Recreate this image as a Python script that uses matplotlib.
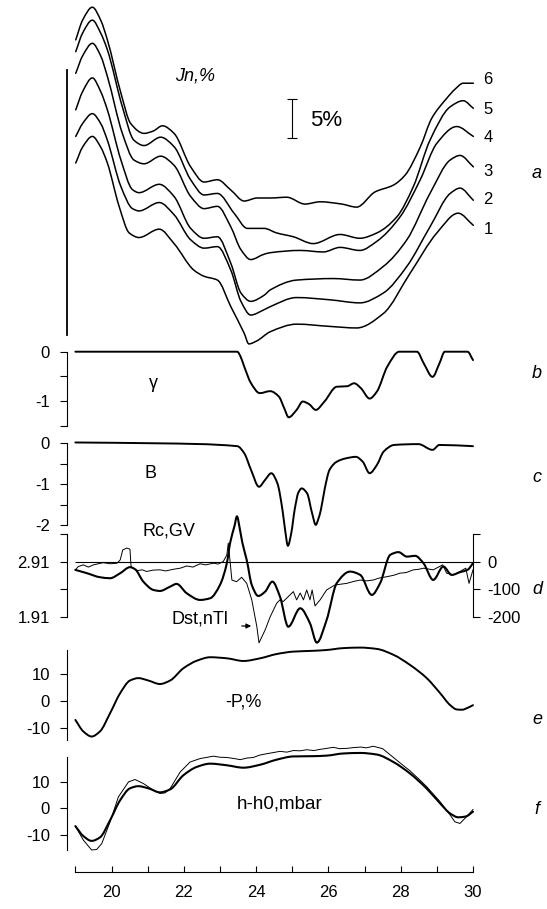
import matplotlib
matplotlib.use("Agg")
import matplotlib.pyplot as plt
import numpy as np
from matplotlib.path import Path
from matplotlib.patches import PathPatch, FancyArrowPatch

plt.rcParams["font.family"] = ["Liberation Sans", "DejaVu Sans"]
plt.rcParams["axes.unicode_minus"] = False

W, H = 547, 909
X_LIM = (18.76, 30.0)

# a: Jn,% curves 1..6 (days, %)
jn1_t = [19.01, 19.2, 19.47, 19.7, 19.885, 20.21, 20.49, 20.76, 21.32, 21.73, 22.28, 22.56, 22.93, 23.30,
         23.67, 23.80, 24.02, 24.39, 25.12, 26.05, 26.78, 27.52, 28.26, 29.00, 29.59, 30.01]
jn1 = [24.6, 26.7, 28.1, 26.7, 24.6, 18.9, 15.4, 14.8, 15.9, 14.0, 10.5, 9.7, 9.2, 5.7,
       2.2, 0.8, 1.2, 2.4, 3.4, 3.1, 2.9, 4.8, 10.1, 15.4, 18.0, 16.4]
jn2_t = [19.01, 19.2, 19.47, 19.7, 19.885, 20.26, 20.58, 20.76, 21.32, 21.73, 22.19, 22.56, 22.93, 23.30,
         23.58, 23.85, 24.22, 24.39, 25.12, 26.05, 26.87, 27.52, 28.17, 28.81, 29.37, 29.64, 30.01]
jn2 = [28.1, 29.8, 31.1, 29.8, 27.6, 21.5, 18.6, 18.3, 19.4, 17.8, 14.5, 13.4, 13.6, 10.5,
       6.4, 4.6, 5.3, 5.7, 6.9, 6.6, 6.2, 7.5, 11.0, 16.2, 20.6, 21.3, 19.7]
jn3_t = [19.01, 19.2, 19.47, 19.7, 19.885, 20.26, 20.58, 20.76, 21.32, 21.73, 22.19, 22.56, 22.93, 23.30,
         23.58, 23.85, 24.22, 24.39, 25.12, 26.14, 26.87, 27.52, 28.17, 28.81, 29.37, 29.64, 30.01]
jn3 = [31.6, 34.0, 35.8, 34.0, 31.6, 25.0, 21.1, 20.7, 21.8, 20.2, 16.0, 14.7, 14.9, 11.4,
       7.5, 6.4, 7.2, 7.9, 9.2, 9.4, 9.2, 11.0, 14.5, 20.6, 25.0, 25.6, 24.1]
jn4_t = [19.01, 19.2, 19.47, 19.7, 19.885, 20.30, 20.62, 20.90, 21.36, 21.73, 22.19, 22.56, 22.93, 23.30,
         23.58, 23.85, 24.22, 24.39, 25.22, 25.86, 26.32, 26.87, 27.34, 27.98, 28.54, 29.00, 29.55, 30.01]
jn4 = [36.4, 38.7, 40.35, 38.7, 36.0, 28.5, 25.0, 24.5, 25.5, 24.3, 20.2, 18.6, 18.9, 16.2,
       13.2, 11.9, 12.6, 12.8, 13.1, 12.9, 13.5, 13.1, 14.3, 17.5, 22.4, 27.2, 29.4, 28.1]
jn5_t = [19.01, 19.2, 19.47, 19.7, 19.885, 20.30, 20.62, 20.90, 21.36, 21.73, 22.19, 22.56, 22.93, 23.39,
         23.76, 24.22, 24.57, 25.03, 25.58, 26.32, 26.87, 27.34, 27.89, 28.35, 28.81, 29.37, 29.73, 30.01]
jn5 = [39.25, 41.7, 43.4, 41.7, 39.5, 32.0, 27.6, 26.9, 28.0, 26.75, 22.4, 20.4, 20.6, 18.0,
       16.0, 16.0, 15.4, 14.9, 14.0, 15.2, 14.7, 15.4, 17.5, 21.5, 27.6, 32.0, 32.8, 31.8]
jn6_t = [19.01, 19.2, 19.47, 19.7, 19.885, 20.26, 20.53, 20.90, 21.15, 21.41, 21.73, 22.19, 22.56, 22.93,
         23.30, 23.67, 24.03, 24.39, 24.85, 25.35, 25.77, 26.37, 26.78, 27.29, 27.80, 28.12, 28.54, 28.86,
         29.27, 29.5, 29.73, 30.01]
jn6 = [40.8, 43.4, 45.1, 43.4, 40.8, 33.8, 29.8, 28.5, 28.8, 29.5, 28.5, 24.1, 22.1, 22.4,
       21.05, 19.6, 20.0, 20.0, 20.1, 19.2, 19.5, 19.2, 18.8, 20.8, 21.7, 23.0, 26.7, 30.5,
       33.1, 34.3, 35.1, 35.1]
jn_curves = [(jn1_t, jn1, "1"), (jn2_t, jn2, "2"), (jn3_t, jn3, "3"),
             (jn4_t, jn4, "4"), (jn5_t, jn5, "5"), (jn6_t, jn6, "6")]

# b: gamma
gamma_t = [19.0, 23.48, 23.57, 23.67, 23.86, 24.10, 24.39, 24.63, 24.78, 24.90, 25.12, 25.29, 25.46,
           25.65, 25.89, 26.23, 26.52, 26.71, 26.90, 27.14, 27.34, 27.63, 27.96, 28.45, 28.64, 28.88,
           29.07, 29.22, 29.85, 30.0]
gamma = [0, 0, -0.10, -0.30, -0.64, -0.84, -0.80, -0.91, -1.15, -1.33, -1.18, -1.01, -1.06,
         -1.18, -1.01, -0.71, -0.70, -0.64, -0.74, -0.95, -0.81, -0.30, 0, 0, -0.24, -0.51,
         -0.24, 0, 0, -0.17]

# c: B
bfield_t = [19.0, 21.26, 23.48, 23.67, 23.86, 24.08, 24.25, 24.42, 24.59, 24.73, 24.80, 24.88, 24.97,
            25.07, 25.17, 25.26, 25.41, 25.55, 25.65, 25.72, 25.79, 25.9, 26.03, 26.23, 26.47, 26.76,
            26.95, 27.14, 27.34, 27.53, 27.82, 28.49, 28.88, 29.07, 30.0]
bfield = [0.02, 0, -0.07, -0.24, -0.65, -1.06, -0.89, -0.73, -0.98, -1.63, -2.1, -2.5, -2.2,
          -1.6, -1.2, -1.10, -1.22, -1.71, -1.99, -1.85, -1.63, -1.1, -0.65, -0.45, -0.37, -0.33,
          -0.45, -0.73, -0.53, -0.20, -0.04, -0.02, -0.16, -0.04, -0.07]

# d: Rc (GV) and Dst (nT)
rc_t = [19.0, 19.32, 19.68, 19.96, 20.24, 20.51, 20.65, 20.88, 21.16, 21.34, 21.62, 21.80, 22.08,
        22.45, 22.73, 23.00, 23.19, 23.28, 23.40, 23.47, 23.55, 23.62, 23.74, 23.88, 24.06, 24.25,
        24.45, 24.66, 24.89, 25.22, 25.49, 25.68, 25.95, 26.23, 26.60, 26.88, 27.20, 27.43, 27.71,
        27.94, 28.17, 28.40, 28.63, 28.90, 29.18, 29.41, 29.65, 29.85, 30.0]
rc = [2.759, 2.699, 2.626, 2.608, 2.699, 2.808, 2.772, 2.546, 2.395, 2.377, 2.455, 2.505, 2.335,
      2.214, 2.245, 2.486, 2.88, 3.245, 3.55, 3.73, 3.50, 3.25, 2.94, 2.486, 2.286, 2.365,
      2.546, 2.274, 1.728, 2.063, 1.79, 1.44, 1.85, 2.517, 2.728, 2.668, 2.305, 2.517, 3.032,
      3.081, 3.0, 3.014, 2.88, 2.577, 2.82, 2.668, 2.72, 2.76, 2.88]
dst_t = [19.0, 19.08, 19.22, 19.36, 19.50, 19.77, 19.96, 20.15, 20.24, 20.31, 20.42, 20.51, 20.54,
         20.70, 20.85, 20.97, 21.15, 21.34, 21.5, 21.71, 21.9, 22.08, 22.25, 22.45, 22.6, 22.82,
         22.95, 23.09, 23.19, 23.23, 23.28, 23.33, 23.46, 23.60, 23.74, 23.88, 24.02, 24.08, 24.25,
         24.39, 24.57, 24.66, 24.75, 24.89, 25.03, 25.12, 25.22, 25.31, 25.40, 25.49, 25.55, 25.63,
         25.77, 25.95, 26.18, 26.51, 26.7, 26.88, 27.05, 27.24, 27.4, 27.61, 27.8, 27.98, 28.15,
         28.35, 28.5, 28.63, 28.90, 29.16, 29.27, 29.46, 29.64, 29.80, 29.89, 30.0]
dst = [-30, -18, -12, -20, -12, -4, -8, -6, 6, 42, 49, 45, -18,
       -33, -30, -36, -31, -30, -34, -28, -24, -16, -20, -8, -12, -6,
       -9, 0, 24, 67, 0, -67, -73, -57, -79, -139, -236, -295, -248,
       -200, -151, -139, -145, -127, -109, -139, -114, -139, -103, -139, -103, -161,
       -139, -103, -85, -79, -72, -67, -70, -67, -60, -55, -50, -42, -40,
       -30, -28, -24, -30, -12, -42, -48, -36, -24, -79, -30]

# e: -P,%
p_t = [19.0, 19.22, 19.45, 19.68, 19.96, 20.24, 20.51, 20.74, 21.02, 21.34, 21.62, 21.99, 22.36,
       22.73, 23.19, 23.65, 24.11, 24.57, 25.03, 25.58, 25.95, 26.41, 26.88, 27.34, 27.80, 28.26,
       28.72, 29.09, 29.37, 29.55, 29.70, 29.85, 30.0]
p_neg = [-7.1, -11.4, -13.3, -11.4, -4.6, 2.9, 7.6, 8.5, 7.6, 6.3, 7.6, 12.2, 15.0,
         16.3, 15.9, 14.9, 15.9, 17.5, 18.4, 18.7, 19.0, 19.7, 19.9, 19.4, 17.2, 13.4,
         8.5, 2.9, -1.6, -3.2, -3.3, -2.6, -1.6]

# f: h-h0, mbar (model thick, observed thin)
h_t = [19.0, 19.22, 19.45, 19.68, 19.96, 20.24, 20.51, 20.74, 21.02, 21.34, 21.62, 21.99, 22.36,
       22.73, 23.19, 23.65, 24.11, 24.57, 25.03, 25.58, 25.95, 26.41, 26.88, 27.34, 27.80, 28.26,
       28.72, 29.09, 29.37, 29.59, 29.80, 30.0]
h_model = [-6.6, -10.3, -12.1, -10.8, -4.4, 3.1, 7.5, 8.3, 7.5, 6.0, 7.1, 12.4, 15.5,
           16.7, 16.1, 15.2, 16.3, 18.2, 19.4, 19.5, 19.7, 20.5, 20.7, 20.1, 17.3, 13.0,
           7.4, 1.9, -1.9, -3.3, -3.0, -1.2]
hobs_t = [19.0, 19.22, 19.45, 19.59, 19.73, 19.96, 20.19, 20.47, 20.65, 20.88, 21.16, 21.34, 21.48,
          21.62, 21.90, 22.17, 22.45, 22.82, 23.0, 23.19, 23.4, 23.56, 23.75, 23.92, 24.1, 24.29,
          24.5, 24.66, 24.85, 25.03, 25.22, 25.4, 25.6, 25.75, 25.9, 26.14, 26.3, 26.5, 26.7, 26.9,
          27.05, 27.24, 27.5, 27.80, 28.0, 28.26, 28.5, 28.72, 29.09, 29.37, 29.50, 29.64, 29.82, 30.0]
h_obs = [-6.6, -11.8, -15.5, -15.3, -13.1, -5.0, 4.3, 9.9, 10.8, 9.3, 6.8, 5.6, 5.8,
         7.4, 13.6, 17.3, 18.6, 19.5, 19.1, 19.0, 18.6, 18.2, 18.8, 19.0, 19.9, 20.4,
         20.9, 21.3, 21.0, 21.6, 21.5, 21.9, 21.6, 22.0, 22.3, 22.8, 22.3, 22.4, 22.7, 22.9,
         22.6, 23.2, 22.3, 19.0, 16.8, 14.0, 11.0, 8.1, 2.5, -2.5, -5.0, -5.6, -3.1, -0.4]


def box(top, bottom, left=66.7, right=473.0):
    return [left / W, 1 - bottom / H, (right - left) / W, (bottom - top) / H]


def fpos(x, y):
    return x / W, 1 - y / H


def smooth_line(ax, xs, ys, lw):
    # smoothed line through the points (monotone cubic Hermite drawn as Bezier segments)
    x = np.asarray(xs, float)
    y = np.asarray(ys, float)
    h = np.diff(x)
    d = np.diff(y) / h
    m = np.zeros_like(y)
    m[0], m[-1] = d[0], d[-1]
    for k in range(1, len(x) - 1):
        if d[k - 1] * d[k] > 0:
            w1 = 2 * h[k] + h[k - 1]
            w2 = h[k] + 2 * h[k - 1]
            m[k] = (w1 + w2) / (w1 / d[k - 1] + w2 / d[k])
    verts = [(x[0], y[0])]
    codes = [Path.MOVETO]
    for k in range(len(x) - 1):
        verts += [(x[k] + h[k] / 3, y[k] + m[k] * h[k] / 3),
                  (x[k + 1] - h[k] / 3, y[k + 1] - m[k + 1] * h[k] / 3),
                  (x[k + 1], y[k + 1])]
        codes += [Path.CURVE4] * 3
    patch = PathPatch(Path(verts, codes), fill=False, lw=lw, ec="k",
                      clip_on=False, capstyle="round", joinstyle="round")
    ax.add_patch(patch)


def style_panel(ax):
    ax.set_xlim(X_LIM)
    ax.patch.set_visible(False)
    for side in ("top", "right", "bottom"):
        ax.spines[side].set_visible(False)
    ax.spines["left"].set_linewidth(0.8)
    ax.set_xticks([])
    ax.tick_params(axis="y", direction="out", length=5, width=0.8, pad=7, labelsize=12)


fig = plt.figure(figsize=(W / 100, H / 100), dpi=100)

# a
ax_a = fig.add_axes(box(0, 350))
style_panel(ax_a)
ax_a.set_ylim(0, 46.05)
ax_a.set_yticks([])
ax_a.spines["left"].set_bounds(2.0, 36.8)
ax_a.spines["left"].set_linewidth(1.3)
for t, v, name in jn_curves:
    smooth_line(ax_a, t, v, 1.1)
ax_a.errorbar([25.0], [30.45], yerr=[2.55], color="k", lw=0.8, capsize=3.5, capthick=0.8)

# b
ax_b = fig.add_axes(box(351.7, 425.7))
style_panel(ax_b)
ax_b.set_ylim(-1.5, 0)
ax_b.set_yticks([0, -0.5, -1, -1.5])
ax_b.set_yticklabels(["0", "", "-1", ""])
smooth_line(ax_b, gamma_t, gamma, 1.4)

# c
ax_c = fig.add_axes(box(443.3, 525.3))
style_panel(ax_c)
ax_c.set_ylim(-2, 0)
ax_c.set_yticks([0, -0.5, -1, -1.5, -2])
ax_c.set_yticklabels(["0", "", "-1", "", "-2"])
smooth_line(ax_c, bfield_t, bfield, 1.4)

# d
ax_d = fig.add_axes(box(534, 616.7))
style_panel(ax_d)
ax_d.set_ylim(1.91, 3.41)
ax_d.set_yticks([3.41, 2.91, 2.41, 1.91])
ax_d.set_yticklabels(["", "2.91", "", "1.91"])
smooth_line(ax_d, rc_t, rc, 1.5)
ax_dr = ax_d.twinx()
ax_dr.set_xlim(X_LIM)
ax_dr.set_ylim(-200, 100)
for side in ("top", "left", "bottom"):
    ax_dr.spines[side].set_visible(False)
ax_dr.spines["right"].set_linewidth(0.8)
ax_dr.set_yticks([100, 0, -100, -200])
ax_dr.set_yticklabels(["", "0", "-100", "-200"])
ax_dr.tick_params(axis="y", direction="out", length=5, width=0.8, pad=5, labelsize=12)
ax_dr.hlines(0, 19, 30, color="k", lw=0.8)
ax_dr.plot(dst_t, dst, color="k", lw=0.7, clip_on=False)

# e
ax_e = fig.add_axes(box(650, 740))
style_panel(ax_e)
ax_e.set_ylim(-14.6, 19.0)
ax_e.set_yticks([10, 0, -10])
smooth_line(ax_e, p_t, p_neg, 1.4)

# f
ax_f = fig.add_axes(box(756.7, 850))
style_panel(ax_f)
ax_f.set_ylim(-15.5, 19.3)
ax_f.set_yticks([10, 0, -10])
ax_f.plot(hobs_t, h_obs, color="k", lw=0.7, clip_on=False)
smooth_line(ax_f, h_t, h_model, 1.5)
ax_f.spines["bottom"].set_visible(True)
ax_f.spines["bottom"].set_linewidth(0.8)
ax_f.spines["bottom"].set_position(("outward", 16))
ax_f.spines["bottom"].set_bounds(19, 30)
ax_f.set_xticks([20, 22, 24, 26, 28, 30])
ax_f.set_xticks([19, 21, 23, 25, 27, 29], minor=True)
ax_f.tick_params(axis="x", which="both", direction="in", length=4.5, width=0.8, pad=9, labelsize=12)

# texts
fig.text(*fpos(195, 76), "Jn,%", style="italic", fontsize=13, ha="center", va="center")
fig.text(*fpos(326, 120), "5%", fontsize=16, ha="center", va="center")
for (t, v, name), y in zip(jn_curves, [230, 200, 172, 137, 110, 80]):
    fig.text(*fpos(488, y), name, fontsize=12, ha="center", va="center")
for letter, y in zip("abcdef", [173, 374, 477, 589, 719, 809]):
    fig.text(*fpos(537, y), letter, style="italic", fontsize=13, ha="center", va="center")
fig.text(*fpos(153, 384), "γ", fontsize=13, ha="center", va="center")
fig.text(*fpos(151, 473), "B", fontsize=13, ha="center", va="center")
fig.text(*fpos(169, 531), "Rc,GV", fontsize=13, ha="center", va="center")
fig.text(*fpos(200, 619), "Dst,nTl", fontsize=13, ha="center", va="center")
fig.text(*fpos(243, 702), "-P,%", fontsize=13, ha="center", va="center")
fig.text(*fpos(280, 804), "h-h0,mbar", fontsize=13.5, ha="center", va="center")
fig.add_artist(FancyArrowPatch(
    fpos(239, 626), fpos(254, 626), transform=fig.transFigure,
    arrowstyle="-|>", mutation_scale=7, lw=0.9, color="k"))

fig.savefig("out.png", dpi=100)
